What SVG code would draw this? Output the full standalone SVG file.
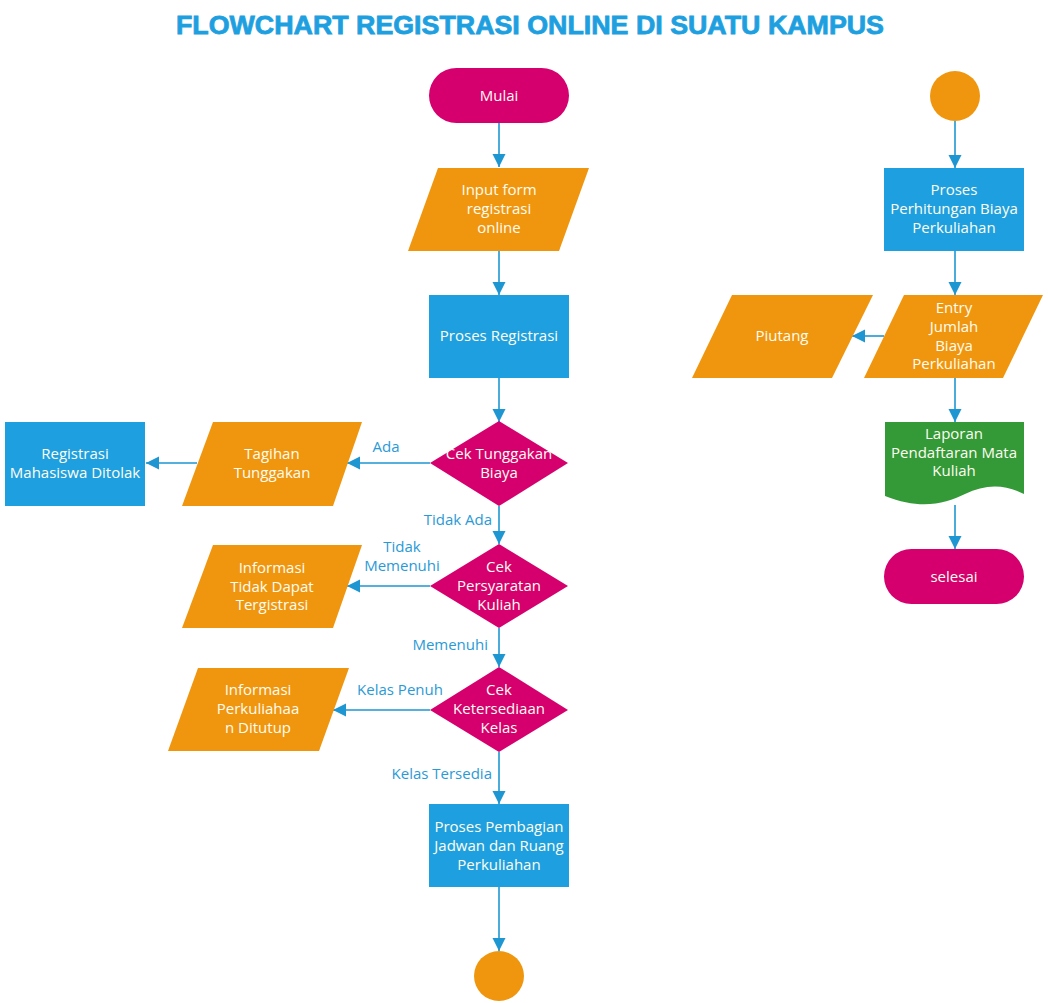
<svg xmlns="http://www.w3.org/2000/svg" width="1048" height="1003" viewBox="0 0 1048 1003">
<defs>
<style>
.t{font-family:"Open Sans","Noto Sans",sans-serif;font-size:15px;fill:#fffdf2;text-anchor:middle}
.l{font-family:"Open Sans","Noto Sans",sans-serif;font-size:15px;fill:#2a9ad6;text-anchor:middle}
.e{text-anchor:end}
.mag{fill:#d5006d}
.ora{fill:#f0960e}
.blu{fill:#1ea0e0}
.grn{fill:#339a37}
.c{stroke:#1e96d2;stroke-width:1.6;fill:none;marker-end:url(#ah)}
</style>
<marker id="ah" markerUnits="userSpaceOnUse" markerWidth="14" markerHeight="14" viewBox="0 0 14 14" refX="13" refY="7" orient="auto">
<path d="M0,0.5 L13,7 L0,13.5 Z" fill="#1e96d2"/>
</marker>
</defs>
<rect width="1048" height="1003" fill="#ffffff"/>
<text x="530" y="34" font-family="Liberation Sans, Arial, sans-serif" font-weight="bold" font-size="26" fill="#1ea0e0" stroke="#1ea0e0" stroke-width="0.8" text-anchor="middle" textLength="708" lengthAdjust="spacingAndGlyphs">FLOWCHART REGISTRASI ONLINE DI SUATU KAMPUS</text>

<g id="connectors">
<line class="c" x1="499" y1="123" x2="499" y2="167"/>
<line class="c" x1="499" y1="251" x2="499" y2="295"/>
<line class="c" x1="499" y1="378" x2="499" y2="422"/>
<line class="c" x1="430" y1="463" x2="347" y2="463"/>
<line class="c" x1="197" y1="463" x2="146" y2="463"/>
<line class="c" x1="499" y1="506" x2="499" y2="544"/>
<line class="c" x1="430" y1="586" x2="347" y2="586"/>
<line class="c" x1="499" y1="628" x2="499" y2="667"/>
<line class="c" x1="430" y1="710" x2="333" y2="710"/>
<line class="c" x1="499" y1="752" x2="499" y2="804"/>
<line class="c" x1="499" y1="887" x2="499" y2="951"/>
<line class="c" x1="955" y1="121" x2="955" y2="168"/>
<line class="c" x1="955" y1="251" x2="955" y2="295"/>
<line class="c" x1="884" y1="336" x2="852" y2="336"/>
<line class="c" x1="955" y1="378" x2="955" y2="422"/>
<line class="c" x1="955" y1="505" x2="955" y2="549"/>
<text class="l" x="386" y="452">Ada</text>
<text class="l e" x="492" y="525">Tidak Ada</text>
<text class="l" x="402" y="552">Tidak</text>
<text class="l" x="402" y="571">Memenuhi</text>
<text class="l e" x="488" y="650">Memenuhi</text>
<text class="l" x="400" y="695">Kelas Penuh</text>
<text class="l e" x="492" y="779">Kelas Tersedia</text>
</g>

<g id="mulai">
<rect class="mag" x="429" y="68" width="140" height="55" rx="27.5"/>
<text class="t" x="499" y="101">Mulai</text>
</g>
<g id="input-form">
<polygon class="ora" points="438,168 589,168 559,251 408,251"/>
<text class="t" x="499" y="195">Input form</text>
<text class="t" x="499" y="214">registrasi</text>
<text class="t" x="499" y="233">online</text>
</g>
<g id="proses-registrasi">
<rect class="blu" x="429" y="295" width="140" height="83"/>
<text class="t" x="499" y="341">Proses Registrasi</text>
</g>
<g id="cek-tunggakan">
<polygon class="mag" points="499,421 568,463 499,506 430,463"/>
<text class="t" x="499" y="459">Cek Tunggakan</text>
<text class="t" x="499" y="478">Biaya</text>
</g>
<g id="tagihan">
<polygon class="ora" points="213,422 362,422 333,506 182,506"/>
<text class="t" x="272" y="459">Tagihan</text>
<text class="t" x="272" y="478">Tunggakan</text>
</g>
<g id="ditolak">
<rect class="blu" x="5" y="422" width="140" height="84"/>
<text class="t" x="75" y="459">Registrasi</text>
<text class="t" x="75" y="478">Mahasiswa Ditolak</text>
</g>
<g id="cek-persyaratan">
<polygon class="mag" points="499,544 568,586 499,628 430,586"/>
<text class="t" x="499" y="572">Cek</text>
<text class="t" x="499" y="591">Persyaratan</text>
<text class="t" x="499" y="610">Kuliah</text>
</g>
<g id="info-tidak-dapat">
<polygon class="ora" points="213,545 362,545 333,628 182,628"/>
<text class="t" x="272" y="573">Informasi</text>
<text class="t" x="272" y="592">Tidak Dapat</text>
<text class="t" x="272" y="610">Tergistrasi</text>
</g>
<g id="cek-ketersediaan">
<polygon class="mag" points="499,667 568,710 499,752 430,710"/>
<text class="t" x="499" y="695">Cek</text>
<text class="t" x="499" y="714">Ketersediaan</text>
<text class="t" x="499" y="733">Kelas</text>
</g>
<g id="info-ditutup">
<polygon class="ora" points="198,668 349,668 319,751 168,751"/>
<text class="t" x="258" y="695">Informasi</text>
<text class="t" x="258" y="714">Perkuliahaa</text>
<text class="t" x="258" y="733">n Ditutup</text>
</g>
<g id="proses-pembagian">
<rect class="blu" x="429" y="804" width="140" height="83"/>
<text class="t" x="499" y="832">Proses Pembagian</text>
<text class="t" x="499" y="851">Jadwan dan Ruang</text>
<text class="t" x="499" y="870">Perkuliahan</text>
</g>
<g id="connector-bottom">
<circle class="ora" cx="499" cy="976" r="25"/>
</g>
<g id="connector-top">
<circle class="ora" cx="955" cy="96" r="25"/>
</g>
<g id="proses-perhitungan">
<rect class="blu" x="884" y="168" width="140" height="83"/>
<text class="t" x="954" y="195">Proses</text>
<text class="t" x="954" y="214">Perhitungan Biaya</text>
<text class="t" x="954" y="233">Perkuliahan</text>
</g>
<g id="entry-jumlah">
<polygon class="ora" points="904,295 1043,295 1003,378 864,378"/>
<text class="t" x="954" y="313">Entry</text>
<text class="t" x="954" y="332">Jumlah</text>
<text class="t" x="954" y="351">Biaya</text>
<text class="t" x="954" y="369">Perkuliahan</text>
</g>
<g id="piutang">
<polygon class="ora" points="732,295 873,295 832,378 692,378"/>
<text class="t" x="782" y="341">Piutang</text>
</g>
<g id="laporan">
<path class="grn" d="M885,422 H1024 V494 C1005,484 985,484 965,494 C945,504 920,510 885,496 Z"/>
<text class="t" x="954" y="439">Laporan</text>
<text class="t" x="954" y="458">Pendaftaran Mata</text>
<text class="t" x="954" y="476">Kuliah</text>
</g>
<g id="selesai">
<rect class="mag" x="884" y="549" width="140" height="55" rx="27.5"/>
<text class="t" x="954" y="582">selesai</text>
</g>
</svg>
